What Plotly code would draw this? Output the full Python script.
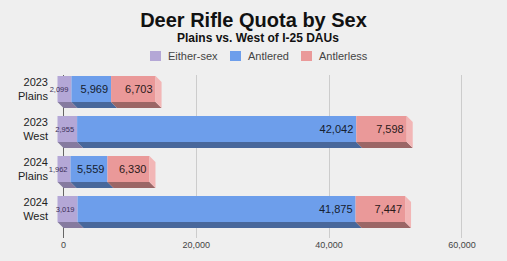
import plotly.graph_objects as go

categories = ["2023<br>Plains", "2023<br>West", "2024<br>Plains", "2024<br>West"]
either_sex = [2099, 2955, 1962, 3019]
antlered = [5969, 42042, 5559, 41875]
antlerless = [6703, 7598, 6330, 7447]
series_names = ["Either-sex", "Antlered", "Antlerless"]
x_ticks = [0, 20000, 40000, 60000]

front_colors = ["#b4a7d6", "#6d9eeb", "#ea9999"]
depth_colors = ["#857a9f", "#48679b", "#9b6666"]
cap_color = "#f2b6b6"
text_colors = ["#3a2f58", "#15202e", "#2a1a1a"]
text_sizes = [7.5, 11, 11]

# legend layout (pixel positions of the swatches, left edges)
legend_swatch_px = [150, 230, 301]
legend_y_px = 56

W, H = 507, 261
ml, mr, mt, mb = 52, 10, 75, 23
px_per_unit_x = 6.64 / 1000.0
zero_px = 63.5
x_min = (ml - zero_px) / px_per_unit_x
x_max = (W - mr - zero_px) / px_per_unit_x
row_px = 40.0
y_top = -0.5
y_bot = y_top + (H - mt - mb) / row_px

dx = 6 / px_per_unit_x
dy = 6 / row_px
bar_w = 26 / row_px

series = [either_sex, antlered, antlerless]
ys = list(range(len(categories)))
y_front = [y - dy for y in ys]

fig = go.Figure()
bases = [0] * len(categories)
shapes = []
for s_idx, (name, vals) in enumerate(zip(series_names, series)):
    b = list(bases)
    fig.add_trace(go.Bar(
        orientation="h",
        y=y_front,
        x=vals,
        base=[v - dx for v in b],
        width=bar_w,
        name=name,
        showlegend=False,
        marker=dict(color=front_colors[s_idx], line=dict(width=0)),
        text=[f"{v:,}" for v in vals],
        textposition="inside",
        textangle=0,
        insidetextanchor="end",
        constraintext="none",
        textfont=dict(size=text_sizes[s_idx], color=text_colors[s_idx],
                      family="Liberation Sans, Arial, sans-serif"),
        cliponaxis=False,
    ))
    for i, y in enumerate(ys):
        x0 = b[i]
        x1 = b[i] + vals[i]
        ybf = y - dy + bar_w / 2
        yb = y + bar_w / 2
        shapes.append(dict(
            type="path", xref="x", yref="y", layer="above",
            path=f"M {x0-dx},{ybf} L {x1-dx},{ybf} L {x1},{yb} L {x0},{yb} Z",
            fillcolor=depth_colors[s_idx], line=dict(width=0)))
        if s_idx == len(series) - 1:
            ytf = y - dy - bar_w / 2
            yt = y - bar_w / 2
            shapes.append(dict(
                type="path", xref="x", yref="y", layer="above",
                path=f"M {x1-dx},{ytf} L {x1},{yt} L {x1},{yb} L {x1-dx},{ybf} Z",
                fillcolor=cap_color, line=dict(width=0)))
    bases = [bases[i] + vals[i] for i in range(len(vals))]

# custom legend
pw = W - ml - mr
ph = H - mt - mb
def px_to_paper_x(px):
    return (px - ml) / pw
def px_to_paper_y(py):
    return 1 + (mt - py) / ph

annotations = [dict(text="<b>Plains vs. West of I-25 DAUs</b>", xref="paper", yref="paper",
                    x=px_to_paper_x(W / 2 + 4), xanchor="center",
                    y=px_to_paper_y(37.5), yanchor="middle", showarrow=False,
                    font=dict(size=12, color="#111"))]
for name, color, sx in zip(series_names, front_colors, legend_swatch_px):
    shapes.append(dict(type="rect", xref="paper", yref="paper",
                       x0=px_to_paper_x(sx), x1=px_to_paper_x(sx + 11),
                       y0=px_to_paper_y(legend_y_px + 5), y1=px_to_paper_y(legend_y_px - 5),
                       fillcolor=color, line=dict(width=0)))
    annotations.append(dict(text=name, xref="paper", yref="paper",
                            x=px_to_paper_x(sx + 16), xanchor="left",
                            y=px_to_paper_y(legend_y_px), yanchor="middle",
                            showarrow=False, font=dict(size=11, color="#444")))

bg = "#efefef"
fig.update_layout(
    width=W, height=H,
    margin=dict(l=ml, r=mr, t=mt, b=mb, pad=0, autoexpand=False),
    paper_bgcolor=bg, plot_bgcolor=bg,
    barmode="overlay",
    font=dict(family="Liberation Sans, Arial, sans-serif", color="#222"),
    title=dict(text="<b>Deer Rifle Quota by Sex</b>", x=0.5, xanchor="center",
               xref="container", yref="container",
               y=1 - 19.5 / H, yanchor="middle",
               font=dict(size=20, color="#111", family="Liberation Sans, Arial, sans-serif")),
    annotations=annotations,
    shapes=shapes,
    showlegend=False,
)
fig.update_xaxes(range=[x_min, x_max], tickvals=x_ticks, tickformat=",",
                 showgrid=True, gridcolor="#cccccc", gridwidth=1,
                 zeroline=True, zerolinecolor="#666666", zerolinewidth=1,
                 ticks="", tickfont=dict(size=9, color="#444"), showline=False,
                 automargin=False, fixedrange=True)
fig.update_yaxes(range=[y_bot, y_top], tickvals=y_front, ticktext=categories,
                 showgrid=False, zeroline=False, ticks="", showline=False,
                 automargin=False, ticklabelstandoff=3,
                 tickfont=dict(size=11, color="#222"), fixedrange=True)

fig.write_html("out.html", config={"displayModeBar": False},
               post_script="document.body.style.margin='0';document.body.style.overflow='hidden';")
